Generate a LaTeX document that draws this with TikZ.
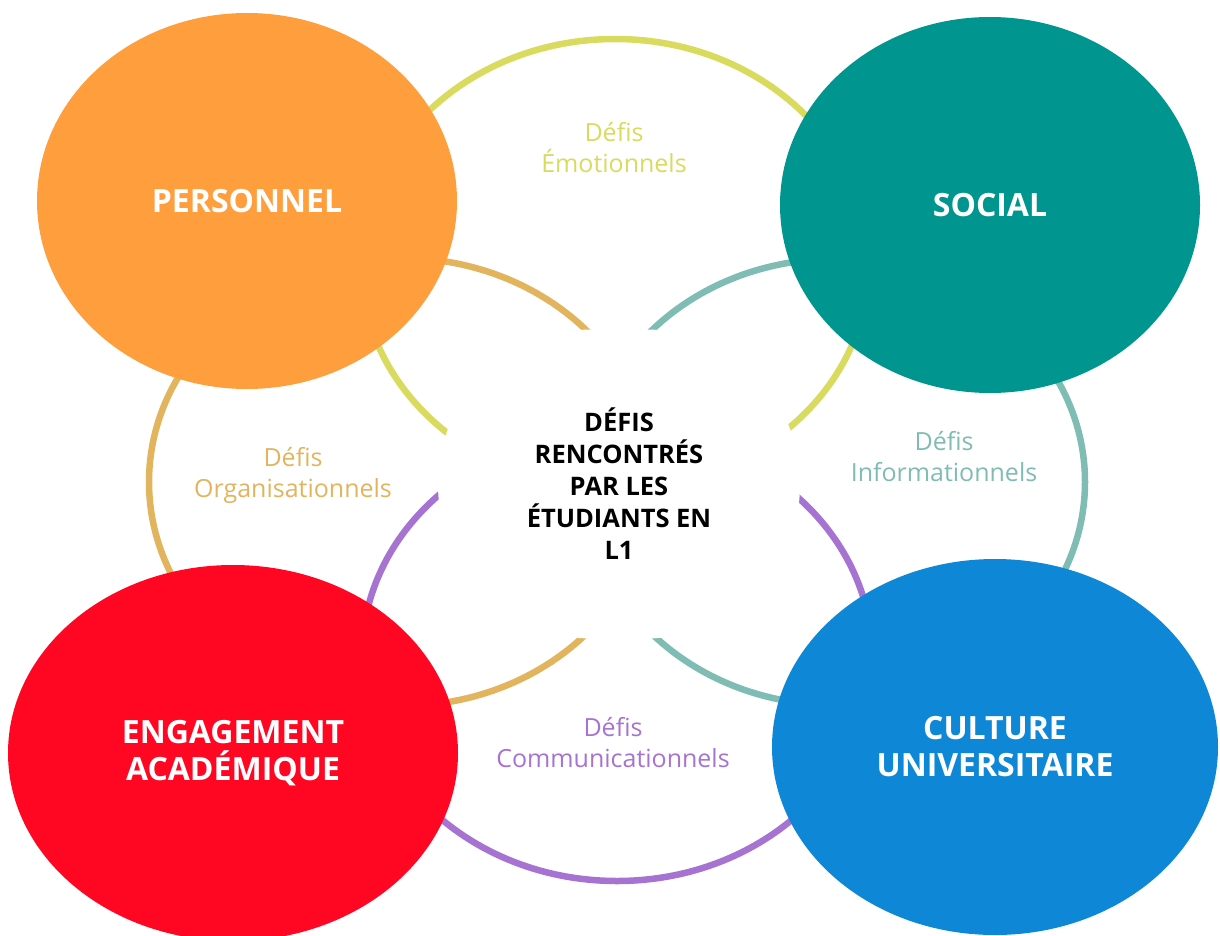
\documentclass[tikz,border=0pt]{standalone}
\usepackage{fontspec}
\setmainfont{Open Sans}
\usetikzlibrary{shapes.geometric}

\definecolor{ringemo}{HTML}{D8DB5E}
\definecolor{ringorga}{HTML}{E2B45E}
\definecolor{ringinfo}{HTML}{7FBCB4}
\definecolor{ringcomm}{HTML}{A673D2}
\definecolor{fillperso}{HTML}{FF9E3D}
\definecolor{fillsocial}{HTML}{00968F}
\definecolor{fillengag}{HTML}{FF0722}
\definecolor{fillculture}{HTML}{0E88D6}

\begin{document}
\begin{tikzpicture}
[x=1pt, y=-1pt,
  ring/.style = {line width=6.5pt},
  bubble/.style = {ellipse, inner sep=0pt, minimum width=420pt, minimum height=376pt,
    text=white, align=center, font=\fontsize{32}{37}\selectfont\bfseries},
  defi/.style = {align=center, font=\fontsize{25}{31}\selectfont}]
  \useasboundingbox (0,0) rectangle (1220,936);
  % the four rings
  \draw[ring, ringemo] (615,264) ellipse [x radius=254pt, y radius=225pt];
  \draw[ring, ringorga] (401,482) ellipse [x radius=252pt, y radius=224pt];
  \draw[ring, ringinfo] (835,482) ellipse [x radius=250pt, y radius=223pt];
  \draw[ring, ringcomm] (617,656) ellipse [x radius=255pt, y radius=225pt];
  % centre
  \node[fill=white, rounded corners=154pt, minimum width=362pt, minimum height=309pt,
    align=center, font=\fontsize{25.5}{32}\selectfont\bfseries] (defis) at (619,484)
    {DÉFIS\\RENCONTRÉS\\PAR LES\\ÉTUDIANTS EN\\L1};
  % corner bubbles
  \node[bubble, fill=fillperso] (perso) at (247,201) {PERSONNEL};
  \node[bubble, fill=fillsocial] (social) at (990,205) {SOCIAL};
  \node[bubble, fill=fillengag, minimum width=450pt] (engag) at (233,753)
    {ENGAGEMENT\\ACADÉMIQUE};
  \node[bubble, fill=fillculture, minimum width=446pt] (culture) at (995,747)
    {CULTURE\\UNIVERSITAIRE};
  % ring labels
  \node[defi, text=ringemo] (emo) at (614,148) {Défis\\Émotionnels};
  \node[defi, text=ringorga] (orga) at (293,475) {Défis\\Organisationnels};
  \node[defi, text=ringinfo] (info) at (944,457) {Défis\\Informationnels};
  \node[defi, text=ringcomm] (comm) at (613,743) {Défis\\Communicationnels};
\end{tikzpicture}
\end{document}
